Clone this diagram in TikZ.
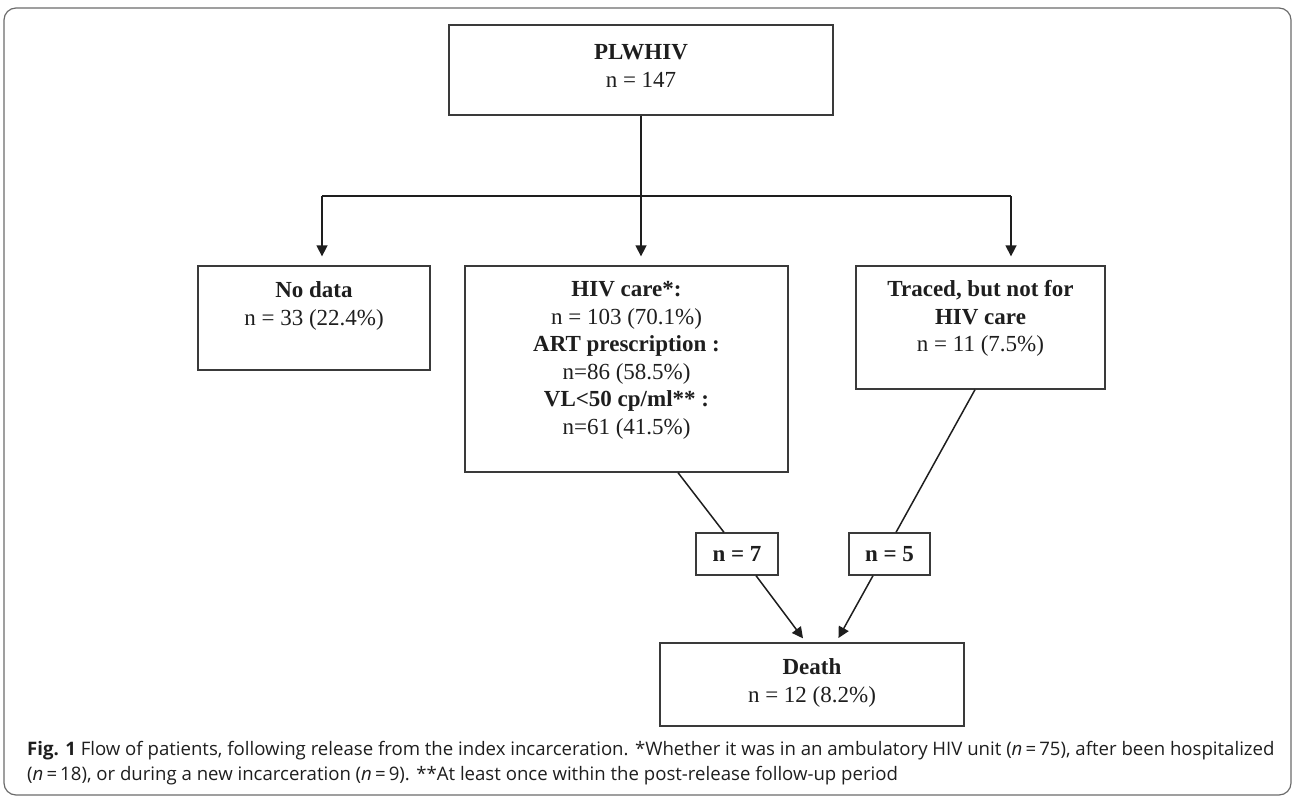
\documentclass[tikz,border=0pt]{standalone}
\usepackage{fontspec}
\setmainfont{Liberation Serif}
\newfontfamily\capfont{Open Sans}
\usetikzlibrary{positioning, arrows.meta}
\definecolor{inkB}{HTML}{1E1E1E}
\definecolor{edgeG}{HTML}{3A3A3A}
\definecolor{frameG}{HTML}{6B6B6B}
\newcommand{\boxfont}{\fontsize{23}{27.5}\selectfont}

\begin{document}
\begin{tikzpicture}[x=1pt, y=-1pt,
  box/.style={draw=edgeG, line width=1.3pt, inner sep=0pt, text=inkB},
  lbl/.style={align=center, font=\boxfont, text=inkB, inner sep=0pt},
  link/.style={inkB, line width=1.5pt},
  arr/.style={link, -{Triangle[width=11pt, length=11pt]}}]
\useasboundingbox (0,0) rectangle (1295,797);
\draw[frameG, line width=1.2pt, rounded corners=12pt] (4,8) rectangle (1291,795);

\node[box, minimum width=384pt, minimum height=90pt] (plwhiv) at (641,70) {};
\node[box, minimum width=232pt, minimum height=104pt] (nodata) at (314,318) {};
\node[box, minimum width=323pt, minimum height=206pt] (care) at (626.5,369) {};
\node[box, minimum width=249pt, minimum height=123pt] (traced) at (980.5,327.5) {};
\node[box, minimum width=82pt, minimum height=42pt, font=\boxfont\bfseries] (nseven) at (737,554) {n = 7};
\node[box, minimum width=81pt, minimum height=42pt, font=\boxfont\bfseries] (nfive) at (889.5,554) {n = 5};
\node[box, minimum width=304pt, minimum height=83pt] (death) at (812,684.5) {};

\node[lbl, below=20pt of plwhiv.north] (plwhivtxt) {\textbf{PLWHIV}\\n = 147};
\node[lbl, below=16pt of nodata.north] (nodatatxt) {\textbf{No data}\\n = 33 (22.4\%)};
\node[lbl, below=16pt of care.north] (caretxt) {\textbf{HIV care*:}\\n = 103 (70.1\%)\\\textbf{ART prescription :}\\n=86 (58.5\%)\\\textbf{VL<50 cp/ml** :}\\n=61 (41.5\%)};
\node[lbl, below=15pt of traced.north] (tracedtxt) {\textbf{Traced, but not for}\\\textbf{HIV care}\\n = 11 (7.5\%)};
\node[lbl, below=16pt of death.north] (deathtxt) {\textbf{Death}\\n = 12 (8.2\%)};

\coordinate (lft) at (322,196);
\coordinate (rgt) at (1011,196);
\draw[arr, shorten >=9pt] (plwhiv.south) -- (plwhiv.south |- care.north);
\draw[link] (lft) -- (rgt);
\draw[arr, shorten >=9pt] (lft) -- (lft |- nodata.north);
\draw[arr, shorten >=9pt] (rgt) -- (rgt |- traced.north);

\draw[link] (care.south -| 678,0) -- (nseven.north -| 724,0);
\draw[link] (traced.south -| 975,0) -- (nfive.north -| 896,0);
\draw[arr, shorten >=5pt] (nseven.south -| 756,0) -- (death.north -| 806,0);
\draw[arr, shorten >=5pt] (nfive.south -| 873,0) -- (death.north -| 836,0);

\node[anchor=north west, align=left, inner sep=0pt, text=inkB,
  font=\capfont\fontsize{18.6}{25}\selectfont] (caption) at (27,741)
  {\textbf{Fig. 1} Flow of patients, following release from the index incarceration. *Whether it was in an ambulatory HIV unit (\textit{n}\,=\,75), after been hospitalized\\(\textit{n}\,=\,18), or during a new incarceration (\textit{n}\,=\,9). **At least once within the post-release follow-up period};
\end{tikzpicture}
\end{document}
